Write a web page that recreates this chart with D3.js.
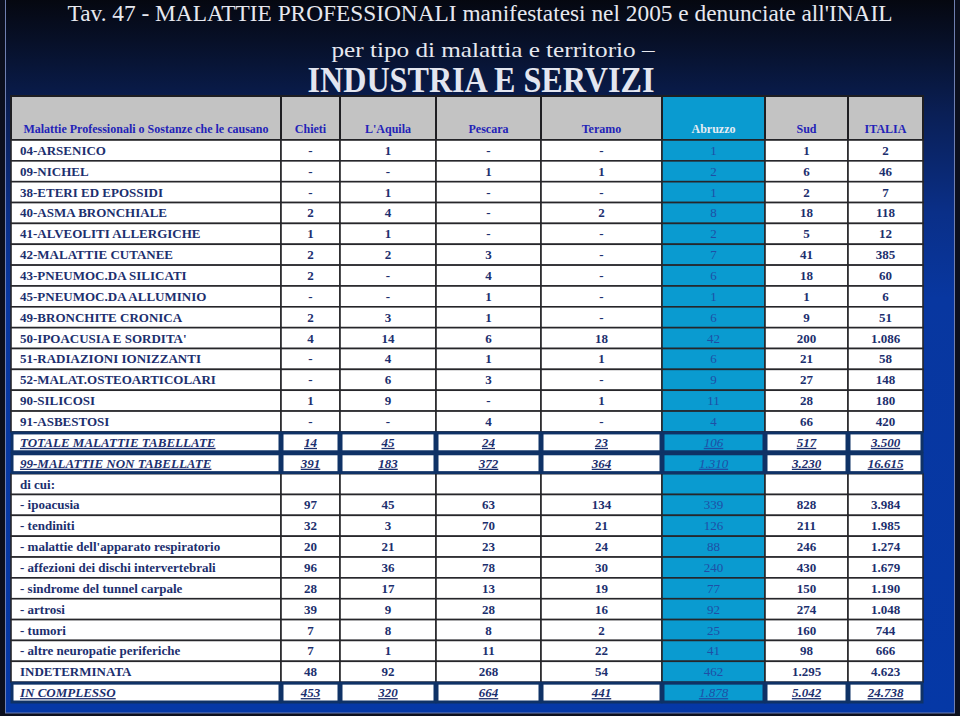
<!DOCTYPE html>
<html>
<head>
<meta charset="utf-8">
<script src="https://cdn.jsdelivr.net/npm/d3@7"></script>
<style>
html,body{margin:0;padding:0;background:#0b0f1e;}
svg{display:block;}
</style>
</head>
<body>
<svg id="chart" width="960" height="716"></svg>
<script>
const titleLine1 = "Tav. 47 - MALATTIE PROFESSIONALI manifestatesi nel 2005 e denunciate all'INAIL";
const titleLine2 = "per tipo di malattia e territorio –";
const titleLine3 = "INDUSTRIA E SERVIZI";

const headerLabel = "Malattie Professionali o Sostanze che le causano";
const columns = ["Chieti", "L'Aquila", "Pescara", "Teramo", "Abruzzo", "Sud", "ITALIA"];

const rowLabels = [
  "04-ARSENICO", "09-NICHEL", "38-ETERI ED EPOSSIDI", "40-ASMA BRONCHIALE",
  "41-ALVEOLITI ALLERGICHE", "42-MALATTIE CUTANEE", "43-PNEUMOC.DA SILICATI",
  "45-PNEUMOC.DA ALLUMINIO", "49-BRONCHITE CRONICA", "50-IPOACUSIA E SORDITA'",
  "51-RADIAZIONI IONIZZANTI", "52-MALAT.OSTEOARTICOLARI", "90-SILICOSI", "91-ASBESTOSI",
  "TOTALE MALATTIE TABELLATE", "99-MALATTIE NON TABELLATE", "di cui:",
  "- ipoacusia", "- tendiniti", "- malattie dell'apparato respiratorio",
  "- affezioni dei dischi intervertebrali", "- sindrome del tunnel carpale",
  "- artrosi", "- tumori", "- altre neuropatie periferiche", "INDETERMINATA", "IN COMPLESSO"
];

const chieti  = ["-","-","-","2","1","2","2","-","2","4","-","-","1","-","14","391","","97","32","20","96","28","39","7","7","48","453"];
const aquila  = ["1","-","1","4","1","2","-","-","3","14","4","6","9","-","45","183","","45","3","21","36","17","9","8","1","92","320"];
const pescara = ["-","1","-","-","-","3","4","1","1","6","1","3","-","4","24","372","","63","70","23","78","13","28","8","11","268","664"];
const teramo  = ["-","1","-","2","-","-","-","-","-","18","1","-","1","-","23","364","","134","21","24","30","19","16","2","22","54","441"];
const abruzzo = ["1","2","1","8","2","7","6","1","6","42","6","9","11","4","106","1.310","","339","126","88","240","77","92","25","41","462","1.878"];
const sud     = ["1","6","2","18","5","41","18","1","9","200","21","27","28","66","517","3.230","","828","211","246","430","150","274","160","98","1.295","5.042"];
const italia  = ["2","46","7","118","12","385","60","6","51","1.086","58","148","180","420","3.500","16.615","","3.984","1.985","1.274","1.679","1.190","1.048","744","666","4.623","24.738"];

const emphasisRows = ["TOTALE MALATTIE TABELLATE", "99-MALATTIE NON TABELLATE", "IN COMPLESSO"];

const series = [chieti, aquila, pescara, teramo, abruzzo, sud, italia];

// ---- layout ----
const colEdges = [11, 281, 340, 436, 541, 662, 765, 848, 923];
const headerTop = 96, bodyTop = 140, bodyBottom = 703;
const svg = d3.select("#chart");

const defs = svg.append("defs");
const grad = defs.append("linearGradient").attr("id","bg").attr("x1",0).attr("y1",0).attr("x2",0).attr("y2",1);
[[0,"#05070f"],[0.06,"#071028"],[0.16,"#0a1f55"],[0.3,"#0a2f88"],[0.42,"#0837a0"],[1,"#0538a6"]]
  .forEach(([o,c]) => grad.append("stop").attr("offset",o).attr("stop-color",c));

svg.append("rect").attr("x",0).attr("y",0).attr("width",960).attr("height",716).attr("fill","#0b0f1e");
svg.append("rect").attr("x",5.5).attr("y",-2).attr("width",949).attr("height",715)
  .attr("fill","url(#bg)").attr("stroke","#6f7fb0").attr("stroke-width",1);

// titles
const serif = "Liberation Serif, DejaVu Serif, serif";
svg.append("text").attr("x",480).attr("y",21).attr("text-anchor","middle")
  .style("font-family",serif).attr("font-size",23).attr("fill","#e6e8ef")
  .attr("textLength",825).attr("lengthAdjust","spacingAndGlyphs").text(titleLine1);
svg.append("text").attr("x",493).attr("y",57).attr("text-anchor","middle")
  .style("font-family",serif).attr("font-size",21).attr("fill","#e6e8ef")
  .attr("textLength",323).attr("lengthAdjust","spacingAndGlyphs").text(titleLine2);
svg.append("text").attr("x",481).attr("y",92).attr("text-anchor","middle")
  .style("font-family",serif).attr("font-size",35).attr("font-weight","bold").attr("fill","#e3e6f0")
  .attr("textLength",347).attr("lengthAdjust","spacingAndGlyphs").text(titleLine3);

// scales
const xCol = d3.scaleOrdinal().domain(["label"].concat(columns)).range(colEdges.slice(0,8));
const wCol = d3.scaleOrdinal().domain(["label"].concat(columns)).range(d3.pairs(colEdges).map(p => p[1]-p[0]));
const y = d3.scaleBand().domain(rowLabels).range([bodyTop, bodyBottom]).padding(0);

const ABR = "#0a9bd0";

// header
const hdr = svg.append("g");
const hdrKeys = ["label"].concat(columns);
hdr.selectAll("rect").data(hdrKeys).join("rect")
  .attr("x", d => xCol(d)).attr("y", headerTop)
  .attr("width", d => wCol(d)).attr("height", bodyTop - headerTop)
  .attr("fill", d => d === "Abruzzo" ? ABR : "#c3c3c3")
  .attr("stroke","#1e1e22").attr("stroke-width",2);
hdr.selectAll("text").data(hdrKeys).join("text")
  .attr("x", d => xCol(d) + wCol(d)/2).attr("y", 132.5)
  .attr("text-anchor","middle").style("font-family",serif).attr("font-weight","bold")
  .attr("font-size",12)
  .attr("fill", d => d === "Abruzzo" ? "#e4ecf4" : "#2323b8")
  .text(d => d === "label" ? headerLabel : d);

// body cells
const cells = [];
rowLabels.forEach((lab, i) => {
  cells.push({row: lab, key: "label", text: lab, i});
  columns.forEach((c, j) => cells.push({row: lab, key: c, text: series[j][i], i}));
});
const isEm = d => emphasisRows.includes(d.row);

const body = svg.append("g");
body.selectAll("rect.n").data(cells.filter(d => !isEm(d))).join("rect").attr("class","n")
  .attr("x", d => xCol(d.key)).attr("y", d => y(d.row))
  .attr("width", d => wCol(d.key)).attr("height", y.bandwidth())
  .attr("fill", d => d.key === "Abruzzo" ? ABR : "#ffffff")
  .attr("stroke","#26262a").attr("stroke-width",1.6);
body.selectAll("rect.e").data(cells.filter(isEm)).join("rect").attr("class","e")
  .attr("x", d => xCol(d.key)+1).attr("y", d => y(d.row)+1)
  .attr("width", d => wCol(d.key)-2).attr("height", y.bandwidth()-2)
  .attr("fill", d => d.key === "Abruzzo" ? ABR : "#ffffff")
  .attr("stroke","#0f3266").attr("stroke-width",3);

body.selectAll("text").data(cells).join("text")
  .attr("x", d => d.key === "label" ? 20 : xCol(d.key) + wCol(d.key)/2)
  .attr("y", d => y(d.row) + y.bandwidth()/2 + 4.5)
  .attr("text-anchor", d => d.key === "label" ? "start" : "middle")
  .style("font-family", serif)
  .attr("font-size", 13)
  .attr("font-weight", d => d.key === "Abruzzo" ? "normal" : "bold")
  .attr("font-style", d => isEm(d) ? "italic" : "normal")
  .attr("text-decoration", d => isEm(d) ? "underline" : "none")
  .attr("fill", d => d.key === "Abruzzo" ? "#1f4fa6" : "#1c2f6e")
  .text(d => d.text);
</script>
</body>
</html>
